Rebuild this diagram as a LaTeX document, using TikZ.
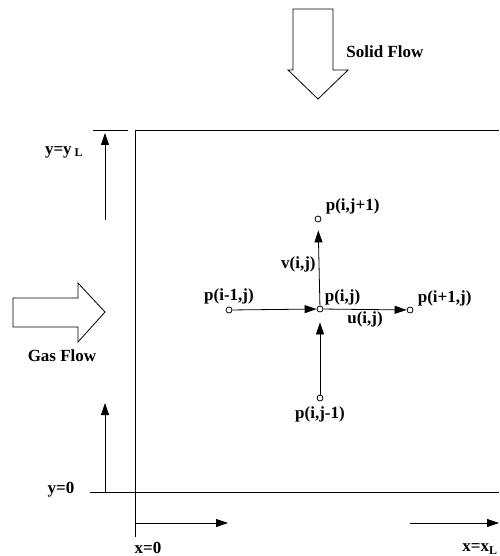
\documentclass[tikz,border=0pt]{standalone}
\usepackage{fontspec}
\setmainfont{Liberation Serif}
\usetikzlibrary{positioning,calc,arrows.meta}

\begin{document}
\begin{tikzpicture}[x=1pt, y=-1pt, line width=0.8pt, every node/.style={font=\fontsize{17}{19}\selectfont\bfseries, inner sep=1pt},
	grid/.style={draw, circle, minimum size=6pt, inner sep=0pt},
	flow/.style={-{Triangle[length=12pt,width=8pt]}},
	block/.style={draw, fill=white}]
	\useasboundingbox (0,0) rectangle (499,556);
	% bed walls
	\coordinate (TL) at (135,130);
	\coordinate (BL) at (135,492);
	\draw (TL) -- (499,130);
	\draw (93,130) -- (128,130);
	\draw (90,492) -- (499,492);
	\draw (TL) -- (135,537);
	% solid and gas inflow
	\draw[block] (293,9) -- (333,9) -- (333,70) -- (348,70) -- (318,99) -- (288,70) -- (293,70) -- cycle;
	\node[right] (SF) at (345,52) {Solid Flow};
	\draw[block] (13,298) -- (78,298) -- (78,283) -- (105,312) -- (78,342) -- (78,327) -- (13,327) -- cycle;
	\node (GF) at (62,356) {Gas Flow};
	% grid points
	\node[grid] (C) at (320,309) {};
	\node[grid] (W) at (229,310) {};
	\node[grid] (E) at (410,310) {};
	\node[grid] (N) at (318,219) {};
	\node[grid] (S) at (320,398) {};
	\node[above right=0pt and 1pt of C] (Clab) {p(i,j)};
	\node[above=1pt of W] (Wlab) {p(i-1,j)};
	\node[above right=0pt and 4pt of E] (Elab) {p(i+1,j)};
	\node[above right=1pt and 4pt of N] (Nlab) {p(i,j+1)};
	\node[below=4pt of S] (Slab) {p(i,j-1)};
	\node[below=1pt of $(C)!0.5!(E)$] (U) {u(i,j)};
	\node[left=2pt of $(C)!0.5!(N)$] (V) {v(i,j)};
	\draw[flow] (W) -- (C);
	\draw[flow] (C) -- (E);
	\draw[flow, shorten >=8pt] (C) -- (N);
	\draw[flow, shorten >=10pt] (S) -- (C);
	% coordinate marks
	\coordinate (yLa) at (105,220);
	\coordinate (yLb) at (105,133);
	\coordinate (y0a) at (105,492);
	\coordinate (y0b) at (105,403);
	\coordinate (x0a) at (135,523);
	\coordinate (x0b) at (228,523);
	\coordinate (xLa) at (410,523);
	\coordinate (xLb) at (499,523);
	\draw[flow] (yLa) -- (yLb);
	\draw[flow] (y0a) -- (y0b);
	\draw[flow] (x0a) -- (x0b);
	\draw[flow] (xLa) -- (xLb);
	\node (yL) at (64,152) {y=y\,\textsubscript{L}};
	\node (y0) at (61,490) {y=0};
	\node (x0) at (148,548) {x=0};
	\node (xL) at (480,549) {x=x\textsubscript{L}};
\end{tikzpicture}
\end{document}
